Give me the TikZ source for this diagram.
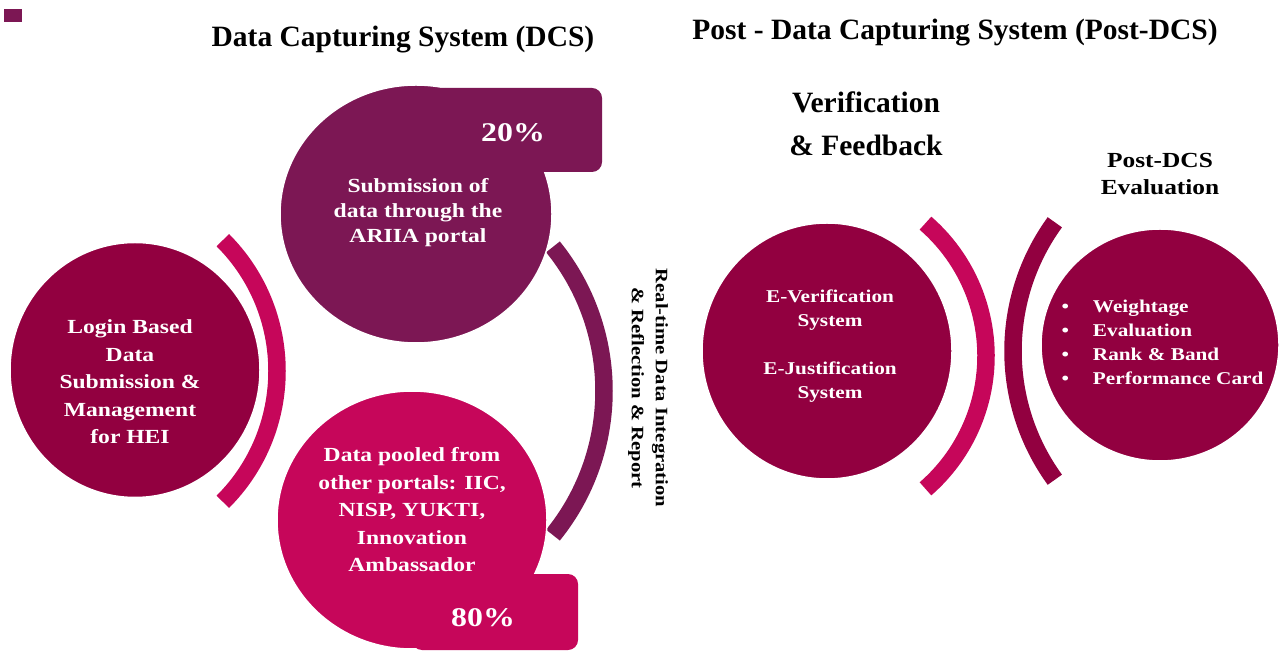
\documentclass[tikz,border=0pt]{standalone}
\usepackage{fontspec}
\setmainfont{Liberation Serif}
\newfontfamily\policeLarge{Liberation Serif}[FakeStretch=1.18]
\usetikzlibrary{shapes.geometric}
\definecolor{prune}{HTML}{7C1754}
\definecolor{bordeaux}{HTML}{920040}
\definecolor{framboise}{HTML}{C6065A}
\begin{document}
\begin{tikzpicture}[x=1pt,y=1pt]
			\tikzstyle{rond}=[ellipse,draw=white,line width=1.5pt,inner sep=0pt]
			\tikzstyle{texte}=[text=white,font=\policeLarge\bfseries\fontsize{20}{27.5}\selectfont,align=center]
			\tikzstyle{petit}=[text=white,font=\policeLarge\bfseries\fontsize{18}{24}\selectfont,align=center]
			\tikzstyle{titre}=[font=\bfseries\fontsize{29.5}{43}\selectfont,align=center]
			\tikzstyle{pourcent}=[text=white,font=\policeLarge\bfseries\fontsize{27}{30}\selectfont]
			\tikzstyle{anneau}=[line width=17.5pt]
			\tikzstyle{onglet}=[rounded corners=10pt]
			\fill[white] (0,0) rectangle (1281,656);
			\useasboundingbox (0,0) rectangle (1281,656);
			%
			\fill[prune] (4,634) rectangle (22,647);
			\node[titre] (DCS) at (403,616) {Data Capturing System (DCS)};
			\node[titre] (PDCS) at (955,623) {Post - Data Capturing System (Post-DCS)};
			\node[titre] (VF) at (866,532) {Verification\\\& Feedback};
			\node[titre,font=\policeLarge\bfseries\fontsize{21.5}{27}\selectfont] (EV) at (1160,482) {Post-DCS\\Evaluation};
			%
			\coordinate (cL) at (92,285);
			\coordinate (cD) at (375,265);
			\coordinate (cV) at (810,300);
			\coordinate (cW) at (1232,305);
			\draw[anneau,framboise] (cL) ++(45:185) arc[start angle=45,end angle=-45,radius=185];
			\draw[anneau,prune] (cD) ++(39:229) arc[start angle=39,end angle=-39,radius=229];
			\draw[anneau,framboise] (cV) ++(49:176) arc[start angle=49,end angle=-49,radius=176];
			\draw[anneau,bordeaux] (cW) ++(144:219) arc[start angle=144,end angle=216,radius=219];
			%
			\node[rond,fill=bordeaux,minimum width=250pt,minimum height=255pt] (L) at (135,286) {};
			\node[rond,fill=prune,minimum width=272pt,minimum height=258pt] (S) at (416,442) {};
			\node[rond,fill=framboise,minimum width=270pt,minimum height=258pt] (P) at (412,136) {};
			\node[rond,fill=bordeaux,minimum width=250pt,minimum height=256pt] (V) at (827,305) {};
			\node[rond,fill=bordeaux,minimum width=238pt,minimum height=232pt] (W) at (1160,311) {};
			\fill[prune,onglet] (S.center) ++(0,42) rectangle (602,568);
			\fill[framboise,onglet] (P.center) ++(0,-130) rectangle (578,82);
			%
			\node[pourcent] (Sp) at (513,523) {20\%};
			\node[pourcent] (Pp) at (483,38) {80\%};
			\node[texte,font=\policeLarge\bfseries\fontsize{20}{25}\selectfont] (St) at (418,443) {Submission of\\data through the\\ARIIA portal};
			\node[texte] (Lt) at (130,274) {Login Based\\Data\\Submission \&\\Management\\for HEI};
			\node[texte] (Pt) at (412,146) {Data pooled from\\other portals: IIC,\\NISP, YUKTI,\\Innovation\\Ambassador};
			\node[petit] (Vt) at (830,310) {E-Verification\\System\\[24pt]E-Justification\\System};
			\node[petit,anchor=west,align=left] (Wt) at (1058,312) {%
				\begin{tabular}{@{}l@{\hspace{24pt}}l@{}}
				\textbullet & Weightage\\
				\textbullet & Evaluation\\
				\textbullet & Rank \& Band\\
				\textbullet & Performance Card
				\end{tabular}};
			\node[rotate=-90,align=center,font=\policeLarge\bfseries\fontsize{17.5}{24}\selectfont] (RT) at (648,268) {Real-time Data Integration\\\& Reflection \& Report};
		\end{tikzpicture}
\end{document}
